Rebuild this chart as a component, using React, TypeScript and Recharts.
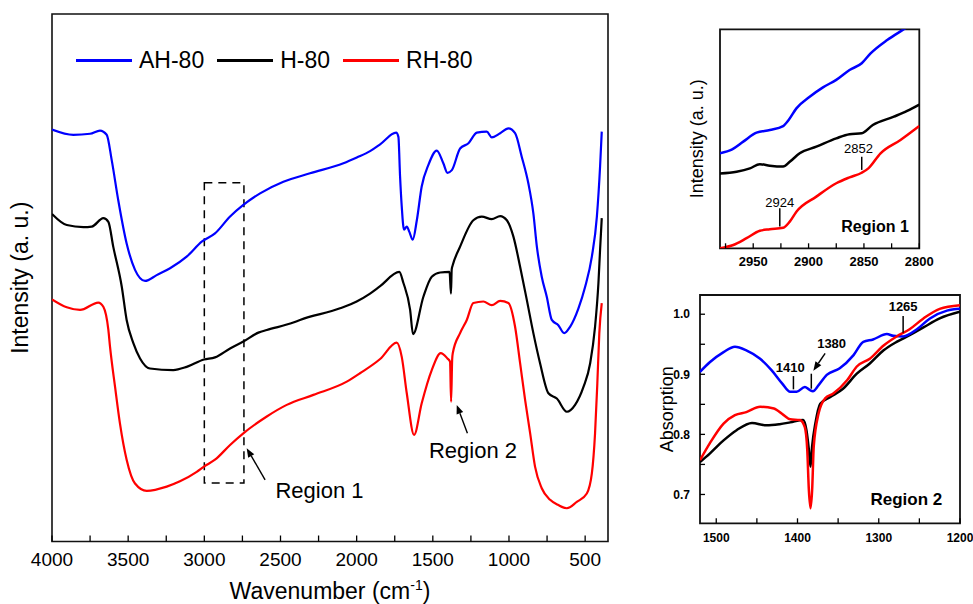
import React from "react";
import {
  LineChart, Line, XAxis, YAxis, Legend, ReferenceArea, ReferenceLine, ReferenceDot,
} from "recharts";

const FONT = "'Liberation Sans', Arial, Helvetica, sans-serif";
const BLUE = "#0000ff";
const BLACK = "#000000";
const RED = "#ff0000";

type Pt = [number, number];

// main panel: [wavenumber cm-1, intensity a.u. 0..100]
const AH80: Pt[] = [
  [4000, 78.1], [3860, 77.1], [3750, 77.3], [3685, 77.9], [3641, 77.1], [3608, 72.3], [3565, 64.7],
  [3510, 56.5], [3455, 51.5], [3389, 49.4], [3313, 50.5], [3225, 51.8], [3116, 54.0], [3015, 56.9],
  [2930, 58.4], [2831, 61.6], [2744, 63.8], [2634, 66.0], [2481, 68.2], [2306, 69.8], [2087, 71.7],
  [1999, 72.8], [1912, 74.0], [1846, 75.3], [1741, 77.5], [1726, 76.7], [1715, 69.2], [1704, 63.5],
  [1689, 59.1], [1671, 59.7], [1654, 58.7], [1632, 57.2], [1605, 60.9], [1573, 67.3], [1529, 71.4],
  [1474, 74.1], [1431, 71.7], [1404, 69.9], [1375, 70.4], [1321, 74.5], [1266, 75.5], [1211, 77.5],
  [1146, 77.7], [1113, 76.6], [1058, 77.4], [1004, 78.3], [960, 77.4], [916, 72.9], [873, 67.9],
  [840, 62.2], [817, 55.9], [785, 50.2], [752, 46.4], [719, 42.0], [676, 41.0], [638, 39.5],
  [599, 40.7], [544, 44.2], [500, 48.3], [456, 54.0], [423, 61.6], [402, 71.1], [391, 77.7],
];
const H80: Pt[] = [
  [4000, 62.1], [3903, 60.0], [3794, 59.6], [3739, 59.7], [3663, 61.3], [3630, 60.6], [3598, 55.9],
  [3542, 48.3], [3510, 42.0], [3466, 37.6], [3422, 34.7], [3357, 32.8], [3204, 32.5], [3116, 33.1],
  [3002, 34.5], [2930, 34.9], [2831, 36.6], [2744, 37.9], [2645, 39.6], [2590, 40.1], [2416, 41.5],
  [2372, 42.0], [2109, 44.2], [2000, 45.5], [1912, 47.0], [1846, 48.4], [1720, 51.1], [1693, 49.0],
  [1649, 43.9], [1630, 39.3], [1562, 46.4], [1507, 50.2], [1452, 51.0], [1390, 51.1], [1381, 47.0],
  [1376, 51.6], [1369, 52.4], [1321, 55.9], [1234, 60.9], [1179, 61.6], [1113, 61.1], [1058, 61.7],
  [1014, 60.9], [971, 57.8], [927, 52.1], [883, 45.8], [840, 39.5], [796, 33.8], [741, 28.1],
  [686, 27.1], [620, 24.6], [566, 25.9], [511, 29.3], [467, 33.8], [435, 40.7], [413, 48.9],
  [402, 55.3], [391, 61.3],
];
const RH80: Pt[] = [
  [4000, 45.9], [3903, 44.4], [3816, 43.9], [3696, 45.3], [3663, 44.5], [3630, 40.1], [3619, 36.9],
  [3586, 29.3], [3554, 22.4], [3510, 15.5], [3455, 11.0], [3378, 9.6], [3247, 10.4], [3160, 11.4],
  [3050, 13.2], [3002, 14.2], [2930, 15.5], [2831, 18.3], [2744, 20.5], [2590, 23.7], [2459, 25.9],
  [2284, 27.8], [2065, 30.3], [1978, 31.9], [1846, 34.6], [1737, 37.7], [1704, 35.0],
  [1671, 28.1], [1623, 20.2], [1573, 26.2], [1507, 32.5], [1448, 35.7], [1404, 34.7], [1387, 34.1],
  [1380, 26.5], [1373, 34.5], [1369, 35.7], [1321, 39.5], [1277, 42.0], [1234, 45.2], [1168, 45.5],
  [1113, 44.8], [1058, 45.6], [1004, 45.2], [960, 40.7], [927, 33.8], [894, 26.8], [861, 20.5],
  [829, 14.2], [785, 10.1], [730, 7.9], [676, 6.9], [620, 6.3], [555, 7.5], [489, 9.1], [456, 12.9],
  [435, 20.5], [420, 30.0], [407, 39.5], [391, 45.2],
];
const MAIN_TICKS = [500, 750, 1000, 1250, 1500, 1750, 2000, 2250, 2500, 2750, 3000, 3250, 3500, 3750, 4000];

// region 1 (C-H stretch), arbitrary intensity
const AH80_R1: Pt[] = [
  [2980, 43.4], [2969, 45.2], [2959, 48.7], [2947, 52.8], [2935, 54.0], [2923, 55.8], [2918, 58.6],
  [2911, 63.9], [2899, 69.2], [2887, 73.5], [2875, 76.9], [2863, 81.4], [2852, 84.5], [2844, 89.0],
  [2829, 95.1], [2814, 100], [2805, 103],
];
const H80_R1: Pt[] = [
  [2980, 34.2], [2965, 35.0], [2953, 36.5], [2944, 38.4], [2935, 37.7], [2923, 37.3], [2917, 39.5],
  [2908, 43.4], [2893, 46.4], [2875, 50.2], [2863, 52.1], [2852, 52.5], [2842, 56.3], [2823, 60.1],
  [2811, 62.7], [2800, 65.6],
];
const RH80_R1: Pt[] = [
  [2980, 0], [2968, 1.5], [2956, 4.6], [2944, 8.0], [2935, 8.7], [2923, 9.4], [2917, 12.2],
  [2911, 16.7], [2893, 23.6], [2875, 29.7], [2863, 32.4], [2852, 34.5], [2846, 36.5], [2835, 43.4],
  [2817, 49.5], [2800, 55.9],
];
const R1_TICKS = [2800, 2825, 2850, 2875, 2900, 2925, 2950, 2975];

// region 2, absorption
const AH80_R2: Pt[] = [
  [1520, 0.904], [1508, 0.920], [1491, 0.937], [1477, 0.946], [1463, 0.940], [1446, 0.926],
  [1432, 0.907], [1419, 0.885], [1409, 0.871], [1401, 0.871], [1391, 0.879], [1385, 0.874],
  [1381, 0.872], [1374, 0.882], [1364, 0.899], [1348, 0.910], [1331, 0.932], [1319, 0.954],
  [1307, 0.958], [1290, 0.967], [1282, 0.964], [1270, 0.963], [1253, 0.975], [1237, 0.993],
  [1216, 1.006], [1200, 1.009],
];
const H80_R2: Pt[] = [
  [1520, 0.754], [1508, 0.768], [1491, 0.790], [1475, 0.807], [1456, 0.819], [1438, 0.815],
  [1422, 0.817], [1409, 0.820], [1393, 0.824], [1389, 0.807], [1386, 0.774], [1384, 0.746],
  [1382, 0.780], [1378, 0.818], [1372, 0.851], [1360, 0.862], [1344, 0.876], [1327, 0.901],
  [1311, 0.918], [1294, 0.940], [1278, 0.954], [1262, 0.965], [1245, 0.978], [1225, 0.993],
  [1200, 1.004],
];
const RH80_R2: Pt[] = [
  [1520, 0.757], [1508, 0.785], [1491, 0.818], [1477, 0.832], [1463, 0.837], [1446, 0.846],
  [1429, 0.843], [1417, 0.832], [1409, 0.825], [1397, 0.824], [1391, 0.812], [1388, 0.774],
  [1386, 0.707], [1384, 0.677], [1382, 0.707], [1380, 0.780], [1374, 0.835], [1366, 0.860],
  [1356, 0.868], [1339, 0.890], [1327, 0.913], [1311, 0.926], [1294, 0.948], [1278, 0.963],
  [1262, 0.975], [1245, 0.993], [1225, 1.009], [1200, 1.015],
];
const R2_XTICKS = [1200, 1250, 1300, 1350, 1400, 1450, 1500];
const R2_YTICKS = [0.7, 0.75, 0.8, 0.85, 0.9, 0.95, 1.0];

const SERIES = [
  { name: "AH-80", color: BLUE },
  { name: "H-80", color: BLACK },
  { name: "RH-80", color: RED },
];

const pts = (rows: Pt[]) => rows.map(([x, y]) => ({ x, y }));

const XTitle = ({ viewBox }: any) => {
  const x = viewBox.x + viewBox.width / 2;
  const y = viewBox.y + 57.5;
  return (
    <text x={x} y={y} textAnchor="middle" fontSize={23} fontFamily={FONT} fill="#000">
      Wavenumber (cm<tspan dy={-9} fontSize={14}>-1</tspan>
      <tspan dy={9}>)</tspan>
    </text>
  );
};

const YTitle = ({ viewBox, value, dx, size }: any) => {
  const x = viewBox.x + dx;
  const y = viewBox.y + viewBox.height / 2;
  return (
    <text x={x} y={y} transform={`rotate(-90 ${x} ${y})`} textAnchor="middle"
      dominantBaseline="central" fontSize={size} fontFamily={FONT} fill="#000">
      {value}
    </text>
  );
};

const Arrow = (p: any) => {
  const { x1, y1, x2, y2 } = p;
  const a = Math.atan2(y2 - y1, x2 - x1);
  const len = 9, half = 3.5;
  const bx = x2 - len * Math.cos(a), by = y2 - len * Math.sin(a);
  const poly = `${x2},${y2} ${bx - half * Math.sin(a)},${by + half * Math.cos(a)} ${bx + half * Math.sin(a)},${by - half * Math.cos(a)}`;
  return (
    <g>
      <line x1={x1} y1={y1} x2={bx} y2={by} stroke="#000" strokeWidth={1.4} />
      <polygon points={poly} fill="#000" />
    </g>
  );
};

const note = (text: string, size: number, bold: boolean) => (p: any) => (
  <text x={p.cx} y={p.cy} textAnchor="middle" fontSize={size} fontWeight={bold ? "bold" : "normal"}
    fontFamily={FONT} fill="#000">
    {text}
  </text>
);

const MainLegend = () => (
  <div style={{ display: "flex", alignItems: "center", fontFamily: FONT, fontSize: 23, color: "#000", lineHeight: "26px" }}>
    {SERIES.map((s) => (
      <div key={s.name} style={{ display: "flex", alignItems: "center", marginRight: 13 }}>
        <span style={{ display: "inline-block", width: 56, height: 3, background: s.color, marginRight: 7 }} />
        <span>{s.name}</span>
      </div>
    ))}
  </div>
);

function MainChart() {
  return (
    <LineChart width={640} height={604} margin={{ top: 14, right: 32, bottom: 0, left: 0 }}>
      <XAxis type="number" dataKey="x" domain={[350, 4000]} reversed allowDataOverflow
        ticks={MAIN_TICKS} interval={0} tickFormatter={(v) => (v % 500 === 0 ? String(v) : "")}
        tickSize={-6} tickMargin={17.5} axisLine={false} tickLine={{ stroke: "#000", strokeWidth: 1.3 }}
        tick={{ fontSize: 19, fill: "#000", fontFamily: FONT }} height={62.5} label={<XTitle />} />
      <YAxis type="number" domain={[0, 100]} allowDataOverflow width={52} tick={false} tickLine={false}
        axisLine={false} label={<YTitle value="Intensity (a. u.)" dx={20} size={23} />} />
      <ReferenceArea x1={4000} x2={350} y1={0} y2={100} fill="none" stroke="#111" strokeWidth={1.6} ifOverflow="visible" />
      <ReferenceArea x1={3000} x2={2740} y1={11.1} y2={68} fill="none" stroke="#000" strokeWidth={1.5}
        strokeDasharray="8 6" ifOverflow="visible" />
      <Line data={pts(AH80)} dataKey="y" name="AH-80" type="monotone" stroke={BLUE} strokeWidth={2.2} dot={false} isAnimationActive={false} />
      <Line data={pts(H80)} dataKey="y" name="H-80" type="monotone" stroke={BLACK} strokeWidth={2.2} dot={false} isAnimationActive={false} />
      <Line data={pts(RH80)} dataKey="y" name="RH-80" type="monotone" stroke={RED} strokeWidth={2.2} dot={false} isAnimationActive={false} />
      <ReferenceLine segment={[{ x: 2601, y: 11.7 }, { x: 2722, y: 17.7 }]} shape={Arrow} ifOverflow="visible" />
      <ReferenceLine segment={[{ x: 1273, y: 20.5 }, { x: 1343, y: 25.9 }]} shape={Arrow} ifOverflow="visible" />
      <ReferenceDot x={2244} y={8.2} r={0} ifOverflow="visible" shape={note("Region 1", 22, false)} />
      <ReferenceDot x={1236} y={15.8} r={0} ifOverflow="visible" shape={note("Region 2", 22, false)} />
      <Legend layout="horizontal" verticalAlign="middle" align="center" content={<MainLegend />}
        wrapperStyle={{ top: 47, left: 76, width: 520 }} />
    </LineChart>
  );
}

function Region1() {
  return (
    <LineChart width={313} height={290} margin={{ top: 29.3, right: 53.7, bottom: 0, left: 0 }}>
      <XAxis type="number" dataKey="x" domain={[2800, 2980]} reversed allowDataOverflow
        ticks={R1_TICKS} interval={0} tickFormatter={(v) => (v % 50 === 0 ? String(v) : "")}
        tickSize={-5} tickMargin={13.4} axisLine={false} tickLine={{ stroke: "#000", strokeWidth: 1.3 }}
        tick={{ fontSize: 13, fontWeight: "bold", fill: "#000", fontFamily: FONT }} height={41.7} />
      <YAxis type="number" domain={[0, 100]} allowDataOverflow width={60} tick={false} tickLine={false}
        axisLine={false} label={<YTitle value="Intensity (a. u.)" dx={36.7} size={18} />} />
      <ReferenceArea x1={2980} x2={2800} y1={0} y2={100} fill="none" stroke="#111" strokeWidth={1.8} ifOverflow="visible" />
      <Line data={pts(AH80_R1)} dataKey="y" type="monotone" stroke={BLUE} strokeWidth={2.5} dot={false} isAnimationActive={false} />
      <Line data={pts(H80_R1)} dataKey="y" type="monotone" stroke={BLACK} strokeWidth={2.5} dot={false} isAnimationActive={false} />
      <Line data={pts(RH80_R1)} dataKey="y" type="monotone" stroke={RED} strokeWidth={2.5} dot={false} isAnimationActive={false} />
      <ReferenceLine segment={[{ x: 2926, y: 9.9 }, { x: 2926, y: 18.3 }]} stroke="#000" strokeWidth={1.5} ifOverflow="visible" />
      <ReferenceLine segment={[{ x: 2852, y: 35.8 }, { x: 2852, y: 41.8 }]} stroke="#000" strokeWidth={1.5} ifOverflow="visible" />
      <ReferenceDot x={2926} y={19} r={0} ifOverflow="visible" shape={note("2924", 13, false)} />
      <ReferenceDot x={2855} y={43.4} r={0} ifOverflow="visible" shape={note("2852", 13, false)} />
      <ReferenceDot x={2840} y={7.6} r={0} ifOverflow="visible" shape={note("Region 1", 16, true)} />
    </LineChart>
  );
}

function Region2() {
  return (
    <LineChart width={333} height={324} margin={{ top: 15, right: 13, bottom: 0, left: 0 }}>
      <XAxis type="number" dataKey="x" domain={[1200, 1520]} reversed allowDataOverflow
        ticks={R2_XTICKS} interval={0} tickFormatter={(v) => (v % 100 === 0 ? String(v) : "")}
        tickSize={-5} tickMargin={15} axisLine={false} tickLine={{ stroke: "#000", strokeWidth: 1.3 }}
        tick={{ fontSize: 12, fontWeight: "bold", fill: "#000", fontFamily: FONT }} height={80.7} />
      <YAxis type="number" domain={[0.652, 1.032]} allowDataOverflow width={60} ticks={R2_YTICKS} interval={0}
        tickFormatter={(v) => (Math.round(v * 100) % 10 === 0 ? v.toFixed(1) : "")}
        tickSize={-5} tickMargin={15} axisLine={false} tickLine={{ stroke: "#000", strokeWidth: 1.3 }}
        tick={{ fontSize: 12, fontWeight: "bold", fill: "#000", fontFamily: FONT }}
        label={<YTitle value="Absorption" dx={27} size={18} />} />
      <ReferenceArea x1={1520} x2={1200} y1={0.652} y2={1.032} fill="none" stroke="#111" strokeWidth={1.8} ifOverflow="visible" />
      <Line data={pts(H80_R2)} dataKey="y" type="monotone" stroke={BLACK} strokeWidth={2.5} dot={false} isAnimationActive={false} />
      <Line data={pts(AH80_R2)} dataKey="y" type="monotone" stroke={BLUE} strokeWidth={2.5} dot={false} isAnimationActive={false} />
      <Line data={pts(RH80_R2)} dataKey="y" type="monotone" stroke={RED} strokeWidth={2.5} dot={false} isAnimationActive={false} />
      <ReferenceLine segment={[{ x: 1405, y: 0.875 }, { x: 1405, y: 0.897 }]} stroke="#000" strokeWidth={1.5} ifOverflow="visible" />
      <ReferenceLine segment={[{ x: 1383, y: 0.876 }, { x: 1383, y: 0.901 }]} stroke="#000" strokeWidth={1.5} ifOverflow="visible" />
      <ReferenceLine segment={[{ x: 1270, y: 0.969 }, { x: 1270, y: 0.997 }]} stroke="#000" strokeWidth={1.5} ifOverflow="visible" />
      <ReferenceLine segment={[{ x: 1366, y: 0.935 }, { x: 1380.5, y: 0.906 }]} shape={Arrow} ifOverflow="visible" />
      <ReferenceDot x={1409} y={0.904} r={0} ifOverflow="visible" shape={note("1410", 13, true)} />
      <ReferenceDot x={1358} y={0.943} r={0} ifOverflow="visible" shape={note("1380", 13, true)} />
      <ReferenceDot x={1270} y={1.0055} r={0} ifOverflow="visible" shape={note("1265", 13, true)} />
      <ReferenceDot x={1266} y={0.682} r={0} ifOverflow="visible" shape={note("Region 2", 17, true)} />
    </LineChart>
  );
}

export default function App() {
  return (
    <div style={{ position: "absolute", left: 0, top: 0, width: 973, height: 604, background: "#fff", fontFamily: FONT }}>
      <div style={{ position: "absolute", left: 0, top: 0 }}><MainChart /></div>
      <div style={{ position: "absolute", left: 660, top: 0 }}><Region1 /></div>
      <div style={{ position: "absolute", left: 640, top: 280 }}><Region2 /></div>
    </div>
  );
}
